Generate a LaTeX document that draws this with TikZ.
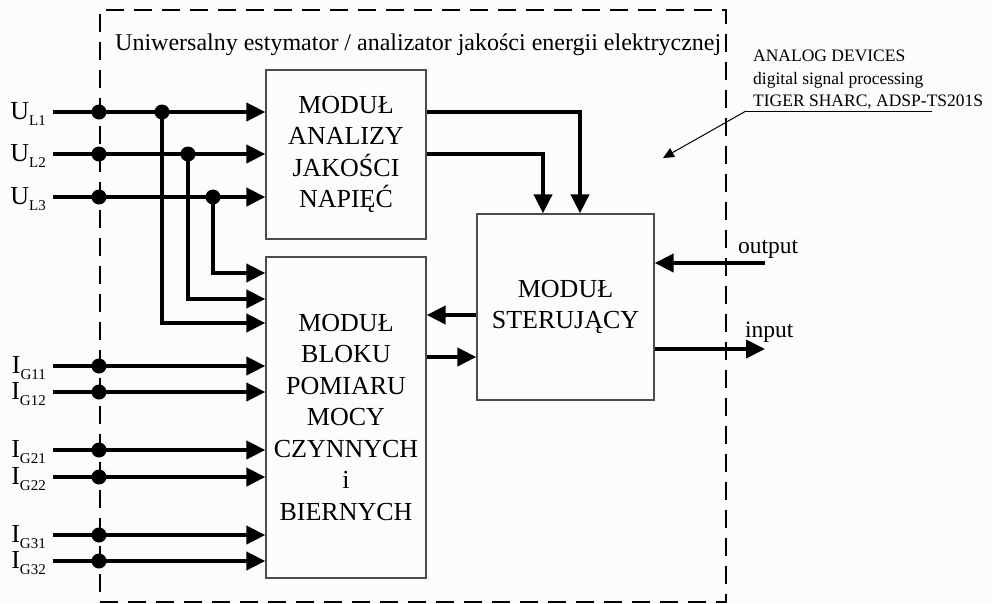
\documentclass[tikz,border=0pt]{standalone}
\usepackage{fontspec}
\setmainfont{Liberation Serif}
\usetikzlibrary{arrows.meta,calc}
\newcommand\mylab[2]{{\fontsize{26}{26}\selectfont #1}\raisebox{-6pt}{\fontsize{15}{15}\selectfont #2}}
\tikzset{
  thk/.style={line width=4pt},
  thkarr/.style={line width=4pt,-{Triangle[length=19pt,width=18pt]}},
  blk/.style={draw=black!70,line width=1.3pt,inner sep=0pt,align=center,font=\fontsize{26}{31.5}\selectfont},
  jdot/.style={circle,fill=black,inner sep=0pt,minimum size=15pt},
  lbl/.style={anchor=base east,inner sep=0pt},
  frame/.style={draw=black,line width=2pt,dash pattern=on 18pt off 10pt,inner sep=0pt},
  ann/.style={anchor=base west,inner sep=0pt,font=\fontsize{17.5}{17.5}\selectfont},
}
\begin{document}
\begin{tikzpicture}[x=1pt,y=-1pt]
\fill[white!98.8!black] (0,0) rectangle (992,603);
\useasboundingbox (0,0) rectangle (992,603);

% frame
\node[frame,minimum width=626pt,minimum height=592pt] (frm) at (413,306) {};
\node[anchor=base west,inner sep=0pt,font=\fontsize{24}{24}\selectfont] (title) at (115,50)
  {Uniwersalny estymator / analizator jakości energii elektrycznej};

% blocks
\node[blk,minimum width=160pt,minimum height=169pt] (b1) at (346,154.5)
  {MODUŁ\\ANALIZY\\JAKOŚCI\\NAPIĘĆ};
\node[blk,minimum width=160pt,minimum height=321pt] (b2) at (346,417.5)
  {MODUŁ\\BLOKU\\POMIARU\\MOCY\\CZYNNYCH\\i\\BIERNYCH};
\node[blk,minimum width=177pt,minimum height=186pt] (b3) at (565.5,307)
  {MODUŁ\\STERUJĄCY};

% input labels
\node[lbl] (lU1) at (46,119.5) {\mylab{U}{L1}};
\node[lbl] (lU2) at (46,161.5) {\mylab{U}{L2}};
\node[lbl] (lU3) at (46,204.5) {\mylab{U}{L3}};
\node[lbl] (lI11) at (46,373.5) {\mylab{I}{G11}};
\node[lbl] (lI12) at (46,399.5) {\mylab{I}{G12}};
\node[lbl] (lI21) at (46,457.5) {\mylab{I}{G21}};
\node[lbl] (lI22) at (46,484.5) {\mylab{I}{G22}};
\node[lbl] (lI31) at (46,542.5) {\mylab{I}{G31}};
\node[lbl] (lI32) at (46,568.5) {\mylab{I}{G32}};

% line starts
\coordinate (a1) at (53,112);
\coordinate (a2) at (53,154);
\coordinate (a3) at (53,197);
\coordinate (i11) at (53,366);
\coordinate (i12) at (53,392);
\coordinate (i21) at (53,450);
\coordinate (i22) at (53,477);
\coordinate (i31) at (53,535);
\coordinate (i32) at (53,561);

\foreach \c in {a1,a2,a3} \draw[thkarr] (\c) -- (\c -| b1.west);
\foreach \c in {i11,i12,i21,i22,i31,i32} \draw[thkarr] (\c) -- (\c -| b2.west);

% junctions on the dashed line
\foreach \c in {a1,a2,a3,i11,i12,i21,i22,i31,i32}
  \node[jdot] at ($(\c)+(46,0)$) {};

% branches of the voltages
\coordinate (j1) at (162,112);
\coordinate (j2) at (188,154);
\coordinate (j3) at (213,197);
\coordinate (r1) at (0,323);
\coordinate (r2) at (0,299);
\coordinate (r3) at (0,273);
\draw[thkarr] (j1) |- (r1 -| b2.west);
\draw[thkarr] (j2) |- (r2 -| b2.west);
\draw[thkarr] (j3) |- (r3 -| b2.west);
\node[jdot] at (j1) {};
\node[jdot] at (j2) {};
\node[jdot] at (j3) {};

% block 1 -> block 3
\coordinate (k1) at (580,0);
\coordinate (k2) at (543,0);
\draw[thkarr] (a1 -| b1.east) -| (k1 |- b3.north);
\draw[thkarr] (a2 -| b1.east) -| (k2 |- b3.north);

% block 3 <-> block 2
\coordinate (m1) at (0,315);
\coordinate (m2) at (0,357);
\draw[thkarr] (m1 -| b3.west) -- (m1 -| b2.east);
\draw[thkarr] (m2 -| b2.east) -- (m2 -| b3.west);

% output / input
\coordinate (outp) at (765,263);
\coordinate (inp) at (765,349);
\draw[thkarr] (outp) -- (outp -| b3.east);
\draw[thkarr] (inp -| b3.east) -- (inp);
\node[anchor=base west,inner sep=0pt,font=\fontsize{23.5}{23.5}\selectfont] (tout) at (738,253) {output};
\node[anchor=base west,inner sep=0pt,font=\fontsize{23.5}{23.5}\selectfont] (tin) at (745,337) {input};

% annotation
\node[ann] (an1) at (753,61) {ANALOG DEVICES};
\node[ann] (an2) at (753,84) {digital signal processing};
\node[ann] (an3) at (753,106) {TIGER SHARC, ADSP-TS201S};
\coordinate (u1) at (746,111);
\coordinate (u2) at (932,111);
\coordinate (tip) at (663,158);
\draw[line width=1pt] (u2) -- (u1);
\draw[line width=1pt,-{Triangle[length=11pt,width=10pt]}] (u1) -- (tip);
\end{tikzpicture}
\end{document}
